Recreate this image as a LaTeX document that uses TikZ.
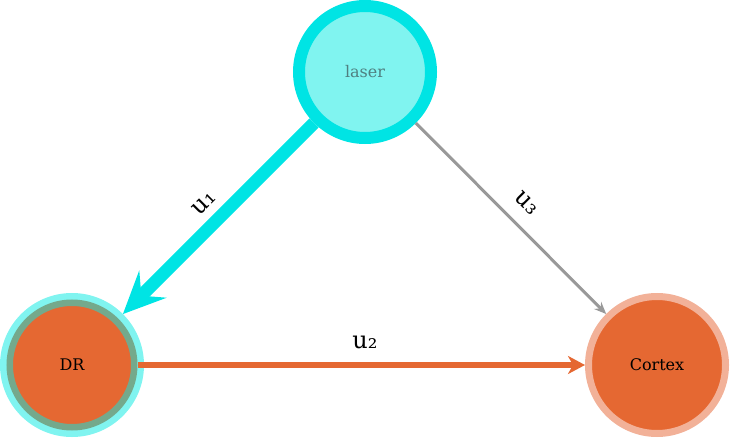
\documentclass[tikz,border=0pt]{standalone}
\usepackage{fontspec}
\setmainfont{DejaVu Serif}
\usetikzlibrary{arrows.meta}
\definecolor{cyanB}{HTML}{00E4E4}
\definecolor{cyanL}{HTML}{80F4F0}
\definecolor{orangeF}{HTML}{E56832}
\definecolor{orangeL}{HTML}{F2B198}
\definecolor{greenG}{HTML}{74A98C}
\definecolor{greyE}{HTML}{999999}
\definecolor{laserT}{HTML}{4F7F80}
\tikzset{
  nodetext/.style={font=\fontsize{16}{19}\selectfont},
  lbl/.style={font=\fontsize{24}{28}\selectfont, inner sep=0pt},
  lasernode/.style={circle, nodetext, text=laserT, fill=cyanL, draw=cyanB, line width=12pt, minimum size=132pt, inner sep=0pt},
  drnode/.style={circle, nodetext, fill=orangeF, draw=greenG, line width=6.5pt, minimum size=124.5pt, inner sep=0pt,
     preaction={draw=cyanL, line width=19.5pt}},
  cortexnode/.style={circle, nodetext, fill=orangeF, draw=orangeL, line width=7pt, minimum size=137pt, inner sep=0pt},
  uone/.style={draw=cyanB, line width=13pt, -{Stealth[length=42pt,width=38pt,inset=16pt]}},
  utwo/.style={draw=orangeF, line width=6pt, -{Stealth[length=17pt,width=18pt,inset=5pt]}},
  uthree/.style={draw=greyE, line width=3pt, -{Stealth[length=12pt,width=10pt,inset=4pt]}}
}
\begin{document}
\begin{tikzpicture}[x=1pt,y=-1pt]
\useasboundingbox (0,0) rectangle (730,438);
\node[lasernode] (laser) at (365,72) {laser};
\node[drnode] (dr) at (72,365) {DR};
\node[cortexnode] (cortex) at (657,365) {Cortex};
\draw[uone, shorten >=6.5pt] (laser) -- (dr);
\draw[utwo] (dr) -- (cortex);
\draw[uthree] (laser) -- (cortex);
\node[lbl, rotate=45] (l1) at (204,203) {u₁};
\node[lbl] (l2) at (365,342) {u₂};
\node[lbl, rotate=-45] (l3) at (527,203) {u₃};
\end{tikzpicture}
\end{document}
